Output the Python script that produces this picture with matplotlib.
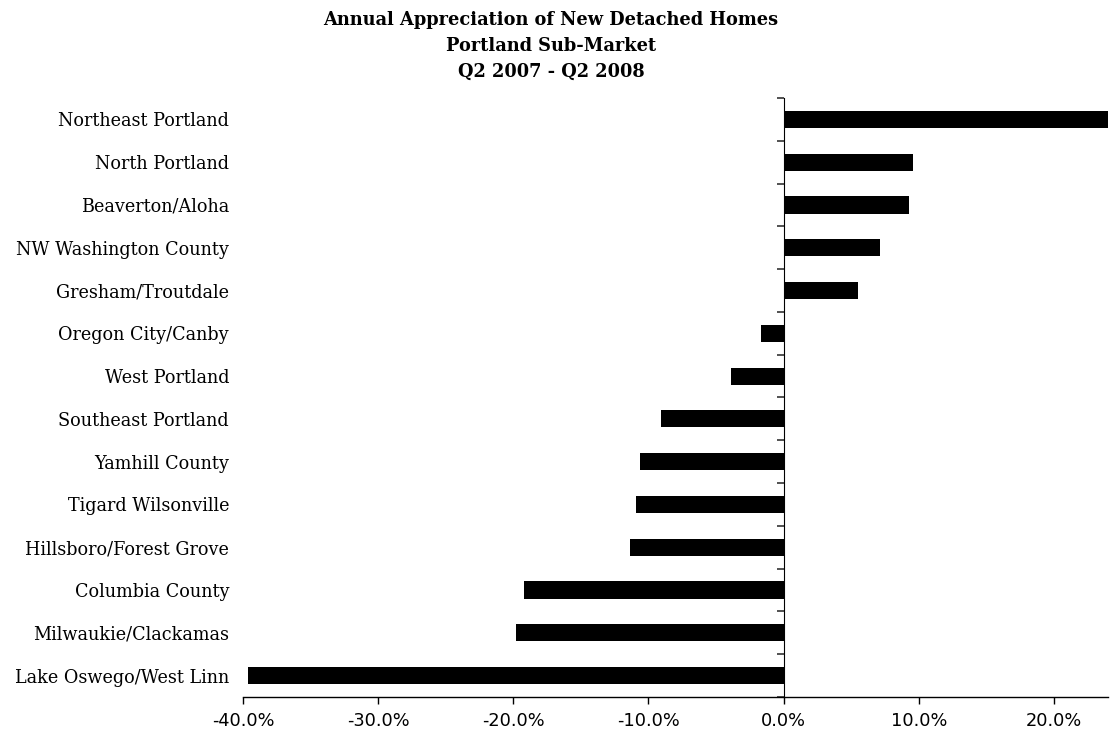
import numpy as np
import matplotlib
matplotlib.use("Agg")
import matplotlib.pyplot as plt
from matplotlib.ticker import FuncFormatter

# sub-markets, top to bottom
markets = ["Northeast Portland", "North Portland", "Beaverton/Aloha",
           "NW Washington County", "Gresham/Troutdale", "Oregon City/Canby",
           "West Portland", "Southeast Portland", "Yamhill County",
           "Tigard Wilsonville", "Hillsboro/Forest Grove", "Columbia County",
           "Milwaukie/Clackamas", "Lake Oswego/West Linn"]
# annual appreciation, percent
appreciation = [24.0, 9.6, 9.3, 7.1, 5.5, -1.7, -3.9, -9.1, -10.6, -10.9,
                -11.4, -19.2, -19.8, -39.6]
xticks = [-40, -30, -20, -10, 0, 10, 20]

fig = plt.figure(figsize=(11.13, 7.34), dpi=100)
ax = fig.add_axes([0.2183, 0.0504, 0.7772, 0.8161])

y = np.arange(len(markets))
ax.barh(y, appreciation, height=0.4, color="black", zorder=3)

ax.set_xlim(-40, 24)
ax.set_ylim(len(markets) - 0.5, -0.5)

ax.set_yticks(y)
ax.set_yticklabels(markets, family="DejaVu Serif", fontsize=12.7)
ax.tick_params(axis="y", length=0, pad=10)

ax.set_xticks(xticks)
ax.xaxis.set_major_formatter(FuncFormatter(lambda v, p: "%.1f%%" % v))
ax.tick_params(axis="x", direction="out", length=5, width=1, pad=6,
               labelsize=12.8)

for s in ["top", "right", "left"]:
    ax.spines[s].set_visible(False)
ax.spines["bottom"].set_linewidth(1)

# vertical axis line at zero with ticks between the categories
zero_frac = (0 - (-40)) / (24 - (-40))
sec = ax.secondary_yaxis(zero_frac)
sec.set_yticks(np.arange(len(markets) + 1) - 0.5)
sec.set_yticklabels([])
sec.tick_params(direction="in", length=5, width=1.2, color="#333333")
sec.spines["left"].set_linewidth(1.5)
sec.spines["left"].set_color("#333333")

title = ["Annual Appreciation of New Detached Homes", "Portland Sub-Market",
         "Q2 2007 - Q2 2008"]
for i, line in enumerate(title):
    fig.text(0.495, 1 - (20 + 26 * i) / 734, line, ha="center", va="center",
             family="DejaVu Serif", fontweight="bold", fontsize=12.8)

fig.savefig("out.png", dpi=100)
